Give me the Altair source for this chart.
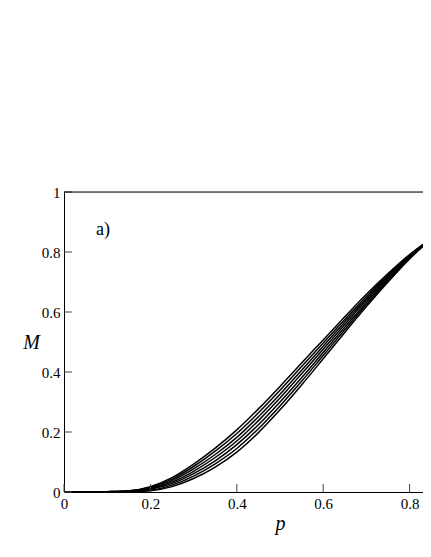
import altair as alt
import pandas as pd

# p grid (x axis)
p_vals = [0.0, 0.05, 0.10, 0.15, 0.20, 0.25, 0.30, 0.35, 0.40, 0.45, 0.50,
          0.55, 0.60, 0.65, 0.70, 0.75, 0.80, 0.85, 0.90]

# Seven M(p) curves, top to bottom
curve1 = [0, 0, 0.001, 0.004, 0.018, 0.048, 0.093, 0.146, 0.207, 0.277, 0.352,
          0.430, 0.507, 0.584, 0.659, 0.728, 0.791, 0.845, 0.895]
curve2 = [0, 0, 0.001, 0.0035, 0.016, 0.043, 0.085, 0.136, 0.195, 0.264, 0.339,
          0.418, 0.497, 0.575, 0.652, 0.723, 0.789, 0.845, 0.895]
curve3 = [0, 0, 0.001, 0.003, 0.013, 0.038, 0.077, 0.125, 0.182, 0.251, 0.326,
          0.406, 0.486, 0.567, 0.645, 0.719, 0.786, 0.844, 0.895]
curve4 = [0, 0, 0.0005, 0.0025, 0.011, 0.033, 0.069, 0.115, 0.170, 0.238, 0.313,
          0.394, 0.476, 0.558, 0.639, 0.714, 0.784, 0.844, 0.895]
curve5 = [0, 0, 0, 0.002, 0.009, 0.028, 0.061, 0.104, 0.158, 0.224, 0.300,
          0.381, 0.465, 0.549, 0.632, 0.709, 0.782, 0.843, 0.894]
curve6 = [0, 0, 0, 0.0015, 0.006, 0.023, 0.053, 0.094, 0.145, 0.211, 0.287,
          0.369, 0.455, 0.541, 0.625, 0.705, 0.779, 0.843, 0.894]
curve7 = [0, 0, 0, 0.001, 0.004, 0.018, 0.045, 0.083, 0.133, 0.198, 0.274,
          0.357, 0.444, 0.532, 0.618, 0.700, 0.777, 0.842, 0.894]

x_ticks = [0, 0.2, 0.4, 0.6, 0.8]
y_ticks = [0, 0.2, 0.4, 0.6, 0.8, 1.0]
panel_label = "a)"
label_p, label_m = 0.074, 0.857

curves = [curve1, curve2, curve3, curve4, curve5, curve6, curve7]
rows = []
for i, c in enumerate(curves):
    for p, m in zip(p_vals, c):
        rows.append({"p": p, "M": m, "curve": i})
df = pd.DataFrame(rows)

W = 359
XMAX = W / 432
xscale = alt.Scale(domain=[0, XMAX], nice=False, zero=False)
yscale = alt.Scale(domain=[0, 1], nice=False)
FONT = "Liberation Serif"

xaxis = alt.Axis(values=x_ticks, title="p", grid=False, ticks=True, tickSize=0,
                 format="~g",
                 labelFont=FONT, labelFontSize=15, labelColor="black", labelPadding=4,
                 labelFlush=False, domainColor="black", domainWidth=1,
                 titleFont=FONT, titleFontSize=20, titleFontStyle="italic",
                 titleFontWeight="normal", titleColor="black",
                 titleX=216, titleY=37, titleAlign="center", titleBaseline="alphabetic")
yaxis = alt.Axis(values=y_ticks, title="M", grid=False, ticks=True, tickSize=0,
                 format="~g",
                 labelFont=FONT, labelFontSize=15, labelColor="black", labelPadding=4,
                 labelFlush=False, domainColor="black", domainWidth=1,
                 titleFont=FONT, titleFontSize=20, titleFontStyle="italic",
                 titleFontWeight="normal", titleColor="black", titleAngle=0,
                 titleX=-33, titleY=156, titleAlign="center", titleBaseline="alphabetic")

lines = alt.Chart(df).mark_line(color="black", strokeWidth=1.5, interpolate="monotone",
                                clip=True).encode(
    x=alt.X("p:Q", scale=xscale, axis=xaxis),
    y=alt.Y("M:Q", scale=yscale, axis=yaxis),
    detail="curve:N",
)

ytick_df = pd.DataFrame({"M": y_ticks})
yticks = alt.Chart(ytick_df).mark_rule(color="#444", strokeWidth=1).encode(
    y=alt.Y("M:Q", scale=yscale),
    x=alt.value(0), x2=alt.value(8),
)
xtick_df = pd.DataFrame({"p": x_ticks})
xticks = alt.Chart(xtick_df).mark_rule(color="#444", strokeWidth=1).encode(
    x=alt.X("p:Q", scale=xscale),
    y=alt.value(300), y2=alt.value(292),
)

top_df = pd.DataFrame({"p": [0.0], "p2": [XMAX], "M": [1.0]})
top = alt.Chart(top_df).mark_rule(color="black", strokeWidth=1).encode(
    x=alt.X("p:Q", scale=xscale), x2="p2:Q", y=alt.Y("M:Q", scale=yscale),
)

lab_df = pd.DataFrame({"p": [label_p], "M": [label_m], "t": [panel_label]})
label = alt.Chart(lab_df).mark_text(font=FONT, fontSize=18, color="black",
                                    align="left", baseline="alphabetic").encode(
    x=alt.X("p:Q", scale=xscale), y=alt.Y("M:Q", scale=yscale), text="t:N",
)

chart = alt.layer(lines, yticks, xticks, top, label).properties(
    width=W, height=300,
    padding={"left": 56, "top": 184, "right": 0, "bottom": 50},
    autosize=alt.AutoSizeParams(type="none"),
).configure_view(stroke=None).configure(background="white")

chart.save("out.html", embed_options={"renderer": "svg", "actions": False})
